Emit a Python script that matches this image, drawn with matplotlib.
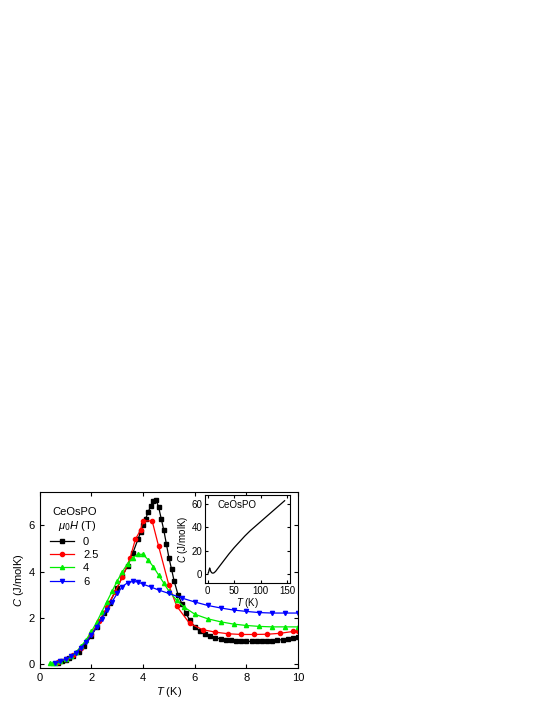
import matplotlib
matplotlib.use('Agg')
import matplotlib.pyplot as plt

plt.rcParams['font.family'] = ['Liberation Sans', 'DejaVu Sans']
plt.rcParams['font.size'] = 8
plt.rcParams['mathtext.fontset'] = 'custom'
plt.rcParams['mathtext.it'] = 'Liberation Sans:italic'

# zero field
T0 = [0.7, 0.85, 1.0, 1.15, 1.3, 1.5, 1.7, 2.0, 2.2, 2.5, 2.7, 3.0, 3.2, 3.4, 3.6, 3.8, 3.9, 4.0, 4.1, 4.2, 4.3, 4.4, 4.5,
      4.6, 4.7, 4.8, 4.9, 5.0, 5.1, 5.2, 5.35, 5.5, 5.65, 5.8, 6.0, 6.2, 6.4, 6.6, 6.8, 7.0, 7.2, 7.4, 7.6, 7.8, 8.0, 8.2,
      8.4, 8.6, 8.8, 9.0, 9.2, 9.4, 9.6, 9.8, 10.0]
C0 = [0.05, 0.1, 0.15, 0.25, 0.35, 0.5, 0.75, 1.2, 1.6, 2.2, 2.65, 3.3, 3.8, 4.25, 4.8, 5.4, 5.7, 6.0, 6.3, 6.6, 6.85, 7.05, 7.1,
      6.8, 6.3, 5.8, 5.2, 4.6, 4.1, 3.6, 3.0, 2.6, 2.2, 1.9, 1.6, 1.4, 1.28, 1.2, 1.13, 1.08, 1.04, 1.01, 0.99, 0.98, 0.97,
      0.97, 0.97, 0.97, 0.98, 1.0, 1.02, 1.05, 1.08, 1.12, 1.15]
# 2.5 T
T25 = [0.7, 1.0, 1.3, 1.6, 2.0, 2.3, 2.6, 2.9, 3.2, 3.5, 3.7, 3.9, 4.0, 4.35, 4.6, 5.0, 5.3, 5.8, 6.3, 6.8, 7.3, 7.8, 8.3, 8.8, 9.3, 9.8, 10.0]
C25 = [0.07, 0.2, 0.38, 0.7, 1.3, 1.85, 2.45, 3.1, 3.75, 4.6, 5.4, 5.8, 6.2, 6.2, 5.1, 3.4, 2.5, 1.75, 1.48, 1.37, 1.3, 1.27, 1.27, 1.28, 1.32, 1.4, 1.42]
# 4 T
T4 = [0.4, 0.5, 0.6, 0.8, 1.0, 1.2, 1.4, 1.6, 1.8, 2.0, 2.2, 2.4, 2.6, 2.8, 3.0, 3.2, 3.4, 3.6, 3.8, 4.0, 4.2, 4.4, 4.6, 4.8,
      5.0, 5.3, 5.6, 6.0, 6.5, 7.0, 7.5, 8.0, 8.5, 9.0, 9.5, 10.0]
C4 = [0.02, 0.03, 0.05, 0.1, 0.2, 0.32, 0.5, 0.75, 1.05, 1.4, 1.8, 2.25, 2.7, 3.15, 3.6, 4.0, 4.35, 4.6, 4.75, 4.75, 4.5, 4.2, 3.85, 3.5,
      3.15, 2.75, 2.45, 2.15, 1.95, 1.82, 1.72, 1.66, 1.62, 1.6, 1.6, 1.6]
# 6 T
T6 = [0.6, 0.8, 1.0, 1.2, 1.4, 1.6, 1.8, 2.0, 2.2, 2.4, 2.6, 2.8, 3.0, 3.2, 3.4, 3.6, 3.8, 4.0, 4.3, 4.6, 5.0, 5.5, 6.0, 6.5,
      7.0, 7.5, 8.0, 8.5, 9.0, 9.5, 10.0]
C6 = [0.03, 0.1, 0.2, 0.32, 0.48, 0.7, 0.95, 1.25, 1.6, 1.95, 2.35, 2.7, 3.05, 3.35, 3.52, 3.57, 3.55, 3.45, 3.33, 3.2, 3.05, 2.85,
      2.68, 2.53, 2.42, 2.33, 2.27, 2.22, 2.2, 2.2, 2.2]

# inset, wide range
Ti = [1, 2, 3, 4, 5, 6, 8, 10, 12, 15, 20, 25, 30, 40, 50, 60, 70, 80, 90, 100, 110, 120, 130, 140, 145]
Ci = [0.5, 1.5, 3.5, 5.0, 3.5, 2.0, 0.8, 0.5, 0.8, 2.0, 5.0, 8.0, 11.0, 17.0, 22.5, 27.5, 32.5, 37.0, 41.0, 45.0, 49.0, 53.0, 57.0, 61.0, 63.0]

fig = plt.figure(figsize=(5.45, 7.05), dpi=100)
ax = fig.add_axes([0.073, 0.052, 0.474, 0.25])
series = [(T0, C0, 'k', 's', '0'), (T25, C25, 'r', 'o', '2.5'), (T4, C4, '#00ee00', '^', '4'), (T6, C6, 'b', 'v', '6')]
for T, C, col, m, lab in series:
    ax.plot(T, C, color=col, marker=m, ms=3, lw=0.9, label=lab)
ax.set_xlim(0, 10)
ax.set_ylim(-0.2, 7.45)
ax.set_xticks([0, 2, 4, 6, 8, 10])
ax.set_yticks([0, 2, 4, 6])
ax.tick_params(direction='in', top=True, right=True, length=3)
ax.set_xlabel('$T$ (K)', labelpad=1)
ax.set_ylabel('$C$ (J/molK)', labelpad=2)
leg = ax.legend(title='CeOsPO\n  $\\mu_0H$ (T)', loc='upper left', frameon=False, handlelength=2.2,
                bbox_to_anchor=(0.0, 0.97), labelspacing=0.3)
leg.get_title().set_ha('left')

ins = fig.add_axes([0.376, 0.173, 0.156, 0.125])
ins.plot(Ti, Ci, 'k', lw=0.9)
ins.set_xlim(-5, 155)
ins.set_ylim(-8, 68)
ins.set_xticks([0, 50, 100, 150])
ins.set_yticks([0, 20, 40, 60])
ins.tick_params(direction='in', top=True, right=True, length=2, labelsize=7, pad=2)
ins.set_xlabel('$T$ (K)', fontsize=7, labelpad=0)
ins.set_ylabel('$C$ (J/molK)', fontsize=7, labelpad=1)
ins.text(0.15, 0.85, 'CeOsPO', transform=ins.transAxes, fontsize=7)

fig.savefig('out.png', dpi=100)
